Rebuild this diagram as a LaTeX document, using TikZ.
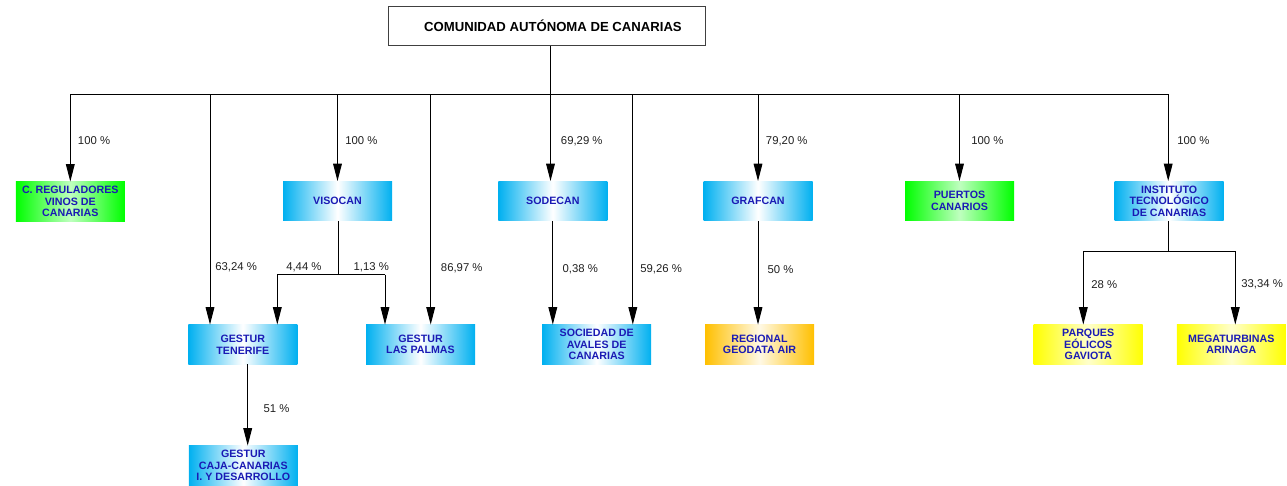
\documentclass[tikz,border=0pt]{standalone}
\usepackage{fontspec}
\setmainfont{Liberation Sans}
\usetikzlibrary{arrows.meta}
\definecolor{boxblue}{HTML}{00B0F0}
\definecolor{boxgreen}{HTML}{00FF00}
\definecolor{boxyellow}{HTML}{FFFF00}
\definecolor{boxorange}{HTML}{FFC000}
\definecolor{boxtext}{HTML}{1A1AB4}
\definecolor{labeltext}{HTML}{202020}
\begin{document}
\begin{tikzpicture}[x=0.75pt,y=-0.75pt,
  orgbox/.style={rectangle, draw=none, minimum width=81.75pt, minimum height=29.5pt, inner sep=0pt, align=center, font=\fontsize{8}{8.7}\selectfont\bfseries, text=boxtext},
  bluebox/.style={orgbox, left color=boxblue, right color=boxblue, middle color=white},
  greenbox/.style={orgbox, left color=boxgreen, right color=boxgreen, middle color=boxgreen!25!white},
  yellowbox/.style={orgbox, left color=boxyellow, right color=boxyellow, middle color=boxyellow!20!white},
  orangebox/.style={orgbox, left color=boxorange, right color=boxorange, middle color=boxorange!10!white},
  topbox/.style={rectangle, draw=black!75, line width=0.75pt, fill=white, minimum width=238pt, minimum height=29.25pt, inner sep=0pt, font=\fontsize{9.85}{12}\selectfont\bfseries},
  pct/.style={anchor=west, inner sep=0pt, font=\fontsize{8.5}{10}\selectfont, text=labeltext},
  link/.style={draw=black, line width=0.75pt},
  arr/.style={link, -{Triangle[length=13pt,width=6.5pt]}}
]
\useasboundingbox (0,0) rectangle (1287,485);

% nodes
\node[topbox] (top) at (547,25.8) {\hspace*{9pt}COMUNIDAD AUTÓNOMA DE CANARIAS};
\node[greenbox] (creg) at (70.3,201.5) {C. REGULADORES\\VINOS DE\\CANARIAS};
\node[bluebox] (visocan) at (337.5,201) {VISOCAN};
\node[bluebox] (sodecan) at (552.8,201) {SODECAN};
\node[bluebox] (grafcan) at (758,201) {GRAFCAN};
\node[greenbox] (puertos) at (959.5,201) {PUERTOS\\CANARIOS};
\node[bluebox] (itc) at (1169.2,201) {INSTITUTO\\TECNOLÓGICO\\DE CANARIAS};
\node[bluebox] (gtf) at (242.8,344.5) {GESTUR\\TENERIFE};
\node[bluebox] (glp) at (420.5,344.5) {GESTUR\\LAS PALMAS};
\node[bluebox] (avales) at (596.7,344.5) {SOCIEDAD DE\\AVALES DE\\CANARIAS};
\node[orangebox] (geodata) at (759.5,344.5) {REGIONAL\\GEODATA AIR};
\node[yellowbox] (parques) at (1088.2,344.5) {PARQUES\\EÓLICOS\\GAVIOTA};
\node[yellowbox] (mega) at (1231.3,344.5) {MEGATURBINAS\\ARINAGA};
\node[bluebox] (caja) at (243.3,465.5) {GESTUR\\CAJA-CANARIAS\\I. Y DESARROLLO};

% main bus
\coordinate (bus) at (550.5,94.3);
\coordinate (busL) at (70.3,94.3);
\coordinate (busR) at (1168.2,94.3);
\coordinate (dgtf) at (210,94.3);
\coordinate (dglp) at (430.7,94.3);
\coordinate (dav) at (632.8,94.3);
\draw[link] (top.south -| bus) -- (bus);
\draw[link] (busL) -- (busR);
\draw[arr] (busL) -- (creg.north);
\draw[arr] (dgtf) -- (dgtf |- gtf.north);
\draw[arr] (visocan.north |- bus) -- (visocan.north);
\draw[arr] (dglp) -- (dglp |- glp.north);
\draw[arr] (bus) -- (bus |- sodecan.north);
\draw[arr] (dav) -- (dav |- avales.north);
\draw[arr] (grafcan.north |- bus) -- (grafcan.north);
\draw[arr] (puertos.north |- bus) -- (puertos.north);
\draw[arr] (busR) -- (busR |- itc.north);

% VISOCAN split
\coordinate (vsplit) at (338.3,274.5);
\coordinate (vL) at (277.3,274.5);
\coordinate (vR) at (385,274.5);
\draw[link] (visocan.south -| vsplit) -- (vsplit);
\draw[link] (vL) -- (vR);
\draw[arr] (vL) -- (vL |- gtf.north);
\draw[arr] (vR) -- (vR |- glp.north);

% SODECAN, GRAFCAN
\draw[arr] (sodecan.south) -- (sodecan.south |- avales.north);
\draw[arr] (grafcan.south) -- (grafcan.south |- geodata.north);

% ITC split
\coordinate (isplit) at (1168,251);
\coordinate (iL) at (1083.3,251);
\coordinate (iR) at (1235.3,251);
\draw[link] (itc.south -| isplit) -- (isplit);
\draw[link] (iL) -- (iR);
\draw[arr] (iL) -- (iL |- parques.north);
\draw[arr] (iR) -- (iR |- mega.north);

% GESTUR Tenerife down
\coordinate (gc) at (247.7,364);
\draw[arr] (gtf.south -| gc) -- (gc |- caja.north);

% labels
\node[pct] (p1) at (77.7,141) {100 \%};
\node[pct] (p2) at (345,141) {100 \%};
\node[pct] (p3) at (560.7,141) {69,29 \%};
\node[pct] (p4) at (765.7,141) {79,20 \%};
\node[pct] (p5) at (971,141) {100 \%};
\node[pct] (p6) at (1177,141) {100 \%};
\node[pct] (p7) at (215,267.5) {63,24 \%};
\node[pct] (p8) at (286,267.5) {4,44 \%};
\node[pct] (p9) at (353.3,267.5) {1,13 \%};
\node[pct] (p10) at (440.7,268) {86,97 \%};
\node[pct] (p11) at (562.3,269) {0,38 \%};
\node[pct] (p12) at (640,269) {59,26 \%};
\node[pct] (p13) at (767.3,269.3) {50 \%};
\node[pct] (p14) at (1091,284.3) {28 \%};
\node[pct] (p15) at (1241,284.3) {33,34 \%};
\node[pct] (p16) at (263.3,408.3) {51 \%};
\end{tikzpicture}
\end{document}
